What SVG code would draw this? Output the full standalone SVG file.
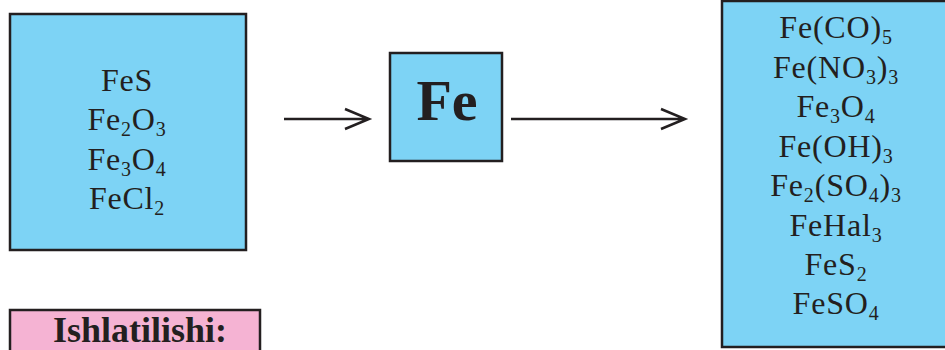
<svg xmlns="http://www.w3.org/2000/svg" width="945" height="350" viewBox="0 0 945 350">
<style>
.box{fill:#7dd3f5;stroke:#231f20;stroke-width:2.5}
.pink{fill:#f5b3d3;stroke:#231f20;stroke-width:2.5}
.t{font-family:"Liberation Serif","Times New Roman",serif;font-size:32px;letter-spacing:0.8px;fill:#231f20;text-anchor:middle}
.s{font-size:20px}
.b{font-family:"Liberation Serif","Times New Roman",serif;font-weight:bold;fill:#231f20;text-anchor:middle}
.c{fill:none;stroke:#231f20;stroke-width:2.5}
</style>
<rect width="945" height="350" fill="#ffffff"/>
<g id="sources">
<rect class="box" x="10" y="14" width="236" height="236"/>
<text class="t" x="127" y="91">FeS</text>
<text class="t" x="127" y="130">Fe<tspan class="s" dy="6">2</tspan><tspan dy="-6">O</tspan><tspan class="s" dy="6">3</tspan></text>
<text class="t" x="127" y="170">Fe<tspan class="s" dy="6">3</tspan><tspan dy="-6">O</tspan><tspan class="s" dy="6">4</tspan></text>
<text class="t" x="127" y="209">FeCl<tspan class="s" dy="6">2</tspan></text>
</g>
<g id="fe">
<rect class="box" x="390" y="53" width="112" height="108"/>
<text class="b" x="447" y="120" font-size="58">Fe</text>
</g>
<g id="compounds">
<rect class="box" x="722" y="1" width="230" height="346"/>
<text class="t" x="836" y="38">Fe(CO)<tspan class="s" dy="6">5</tspan></text>
<text class="t" x="836" y="78">Fe(NO<tspan class="s" dy="6">3</tspan><tspan dy="-6">)</tspan><tspan class="s" dy="6">3</tspan></text>
<text class="t" x="836" y="117">Fe<tspan class="s" dy="6">3</tspan><tspan dy="-6">O</tspan><tspan class="s" dy="6">4</tspan></text>
<text class="t" x="836" y="157">Fe(OH)<tspan class="s" dy="6">3</tspan></text>
<text class="t" x="836" y="196">Fe<tspan class="s" dy="6">2</tspan><tspan dy="-6">(SO</tspan><tspan class="s" dy="6">4</tspan><tspan dy="-6">)</tspan><tspan class="s" dy="6">3</tspan></text>
<text class="t" x="836" y="236">FeHal<tspan class="s" dy="6">3</tspan></text>
<text class="t" x="836" y="275">FeS<tspan class="s" dy="6">2</tspan></text>
<text class="t" x="836" y="314">FeSO<tspan class="s" dy="6">4</tspan></text>
</g>
<g id="usage">
<rect class="pink" x="10" y="310" width="250" height="50"/>
<text class="b" x="140" y="342" font-size="36">Ishlatilishi:</text>
</g>
<g id="connectors">
<path class="c" d="M284 119H369M345 109L369 119L345 129"/>
<path class="c" d="M511 119H685M661 109L685 119L661 129"/>
</g>
</svg>
